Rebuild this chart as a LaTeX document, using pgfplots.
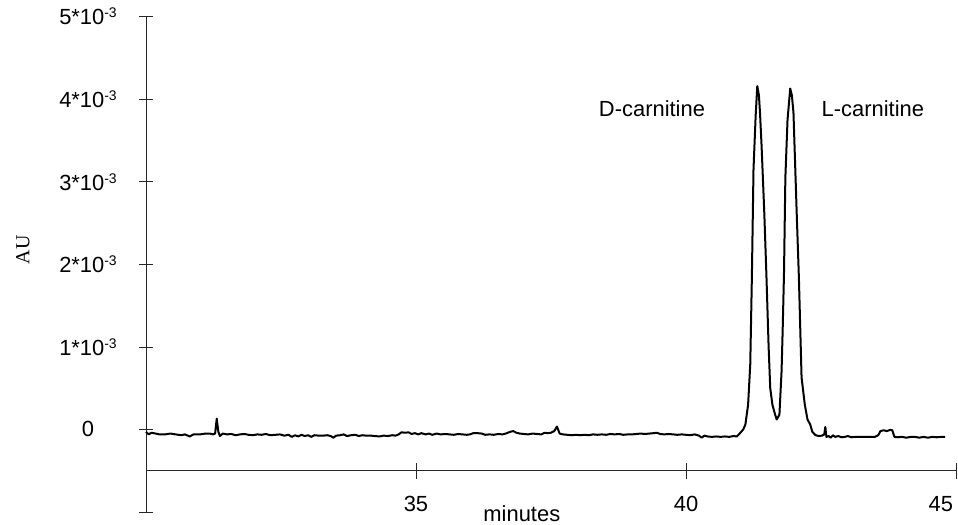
\documentclass[border=0pt]{standalone}
\usepackage{fontspec}
\setmainfont{Liberation Sans}
\newfontfamily\seriffont{Liberation Serif}
\usepackage{pgfplots}
\pgfplotsset{compat=1.18}
\newcommand{\sci}[1]{#1*10\raisebox{0.6ex}{\fontsize{14}{14}\selectfont -3}}
\begin{document}
\begin{tikzpicture}
\begin{axis}[name=ax,
  scale only axis, width=810bp, height=495.3bp,
  xmin=30, xmax=45, ymin=-1, ymax=5,
  axis y line*=left, axis x line=none,
  y axis line style={line width=0.7bp, black!85},
  ytick={-1,0,1,2,3,4,5},
  yticklabels={,0,\sci{1},\sci{2},\sci{3},\sci{4},\sci{5}},
  ytick style={line width=0.7bp, black!85},
  tick align=center, major tick length=14bp,
  yticklabel style={font=\fontsize{22}{26}\selectfont, anchor=center, xshift=-51bp},
  ylabel={\seriffont AU},
  every axis y label/.style={at={(axis description cs:0,0.529)}, xshift=-123bp, rotate=90, anchor=center, font=\fontsize{20}{24}\selectfont},
  clip=false,
]
\addplot[black, line width=2bp, line join=round] coordinates {
(30.00,-0.03) (30.05,-0.06) (30.10,-0.04) (30.18,-0.05) (30.25,-0.06) (30.35,-0.06) (30.45,-0.05) (30.55,-0.06) (30.65,-0.07) (30.72,-0.06) (30.81,-0.085) (30.88,-0.06) (31.00,-0.06) (31.10,-0.05) (31.18,-0.05) (31.24,-0.06) (31.28,-0.05) (31.31,0.13) (31.34,-0.03) (31.37,-0.08) (31.42,-0.05) (31.50,-0.06) (31.58,-0.055) (31.66,-0.07) (31.74,-0.06) (31.82,-0.055) (31.90,-0.065) (31.98,-0.07) (32.06,-0.06) (32.14,-0.065) (32.22,-0.055) (32.30,-0.07) (32.40,-0.065) (32.48,-0.06) (32.56,-0.075) (32.64,-0.065) (32.70,-0.09) (32.76,-0.07) (32.82,-0.085) (32.88,-0.065) (32.94,-0.08) (33.00,-0.07) (33.06,-0.09) (33.12,-0.07) (33.20,-0.075) (33.28,-0.075) (33.36,-0.07) (33.42,-0.08) (33.47,-0.10) (33.52,-0.075) (33.60,-0.07) (33.66,-0.06) (33.72,-0.08) (33.80,-0.07) (33.88,-0.065) (33.94,-0.08) (34.00,-0.07) (34.08,-0.075) (34.16,-0.075) (34.24,-0.08) (34.32,-0.085) (34.40,-0.075) (34.48,-0.08) (34.56,-0.07) (34.62,-0.075) (34.68,-0.06) (34.73,-0.035) (34.80,-0.04) (34.86,-0.035) (34.92,-0.055) (34.98,-0.045) (35.04,-0.06) (35.10,-0.045) (35.18,-0.06) (35.24,-0.05) (35.30,-0.065) (35.38,-0.05) (35.46,-0.06) (35.54,-0.055) (35.62,-0.06) (35.70,-0.065) (35.78,-0.055) (35.86,-0.06) (35.94,-0.065) (36.00,-0.06) (36.06,-0.045) (36.14,-0.045) (36.22,-0.05) (36.28,-0.065) (36.36,-0.06) (36.44,-0.065) (36.52,-0.055) (36.60,-0.06) (36.66,-0.05) (36.74,-0.03) (36.80,-0.02) (36.86,-0.04) (36.92,-0.05) (37.00,-0.055) (37.08,-0.06) (37.16,-0.05) (37.24,-0.055) (37.32,-0.06) (37.38,-0.04) (37.44,-0.045) (37.50,-0.04) (37.56,-0.02) (37.61,0.035) (37.66,-0.05) (37.72,-0.06) (37.80,-0.065) (37.88,-0.07) (37.96,-0.065) (38.04,-0.07) (38.12,-0.065) (38.20,-0.07) (38.28,-0.06) (38.36,-0.065) (38.44,-0.06) (38.52,-0.065) (38.60,-0.055) (38.68,-0.06) (38.76,-0.055) (38.84,-0.065) (38.92,-0.06) (39.00,-0.06) (39.08,-0.055) (39.16,-0.05) (39.24,-0.055) (39.32,-0.05) (39.40,-0.045) (39.46,-0.04) (39.52,-0.055) (39.60,-0.06) (39.68,-0.055) (39.76,-0.06) (39.84,-0.065) (39.92,-0.06) (40.00,-0.065) (40.08,-0.07) (40.16,-0.06) (40.24,-0.075) (40.29,-0.10) (40.34,-0.075) (40.40,-0.085) (40.48,-0.09) (40.56,-0.085) (40.64,-0.09) (40.72,-0.085) (40.80,-0.09) (40.88,-0.08) (40.94,-0.085) (41.00,-0.045) (41.06,0.0) (41.10,0.06) (41.15,0.30) (41.19,0.79) (41.22,1.85) (41.25,3.15) (41.29,3.80) (41.32,4.16) (41.35,4.05) (41.37,3.84) (41.40,3.43) (41.45,2.62) (41.49,1.85) (41.53,1.00) (41.56,0.50) (41.60,0.30) (41.65,0.18) (41.68,0.12) (41.73,0.18) (41.77,0.71) (41.79,1.20) (41.815,1.90) (41.84,3.05) (41.88,3.75) (41.93,4.13) (41.96,4.05) (41.99,3.84) (42.05,2.62) (42.09,1.85) (42.14,0.63) (42.20,0.30) (42.25,0.12) (42.30,0.06) (42.34,-0.03) (42.40,-0.07) (42.46,-0.08) (42.52,-0.075) (42.56,-0.06) (42.58,0.03) (42.60,-0.09) (42.64,-0.08) (42.68,-0.10) (42.72,-0.07) (42.76,-0.09) (42.82,-0.08) (42.88,-0.095) (42.94,-0.09) (43.00,-0.08) (43.06,-0.095) (43.12,-0.09) (43.20,-0.09) (43.30,-0.09) (43.40,-0.09) (43.50,-0.09) (43.56,-0.07) (43.60,-0.02) (43.66,-0.01) (43.72,-0.02) (43.78,-0.005) (43.82,-0.01) (43.86,-0.09) (43.92,-0.095) (44.00,-0.09) (44.08,-0.10) (44.16,-0.09) (44.24,-0.09) (44.32,-0.10) (44.40,-0.09) (44.48,-0.10) (44.56,-0.09) (44.64,-0.095) (44.72,-0.09) (44.80,-0.09)
};
\node[font=\fontsize{22}{26}\selectfont] at (axis cs:39.37,3.88) {D-carnitine};
\node[font=\fontsize{22}{26}\selectfont] at (axis cs:43.46,3.88) {L-carnitine};
\end{axis}
\begin{axis}[name=ax2, at={(0,41.275bp)},
  scale only axis, width=810bp, height=454.0bp,
  xmin=30, xmax=45, ymin=-0.5, ymax=5,
  axis x line*=bottom, axis y line=none,
  x axis line style={line width=0.7bp, black!85},
  xtick={35,40,45}, xticklabels={35,40,\llap{45\hspace{3bp}}},
  xtick style={line width=0.7bp, black!85},
  tick align=center, major tick length=16bp,
  xticklabel style={font=\fontsize{22}{26}\selectfont, anchor=center, yshift=-25bp},
  xlabel={minutes},
  every axis x label/.style={at={(axis description cs:0.464,0)}, yshift=-51bp, anchor=base, font=\fontsize{22}{26}\selectfont},
]
\end{axis}
\pgfresetboundingbox
\path[use as bounding box] ([xshift=-146bp,yshift=-13bp]ax.south west) rectangle ([xshift=2bp,yshift=16.7bp]ax.north east);
\end{tikzpicture}
\end{document}
